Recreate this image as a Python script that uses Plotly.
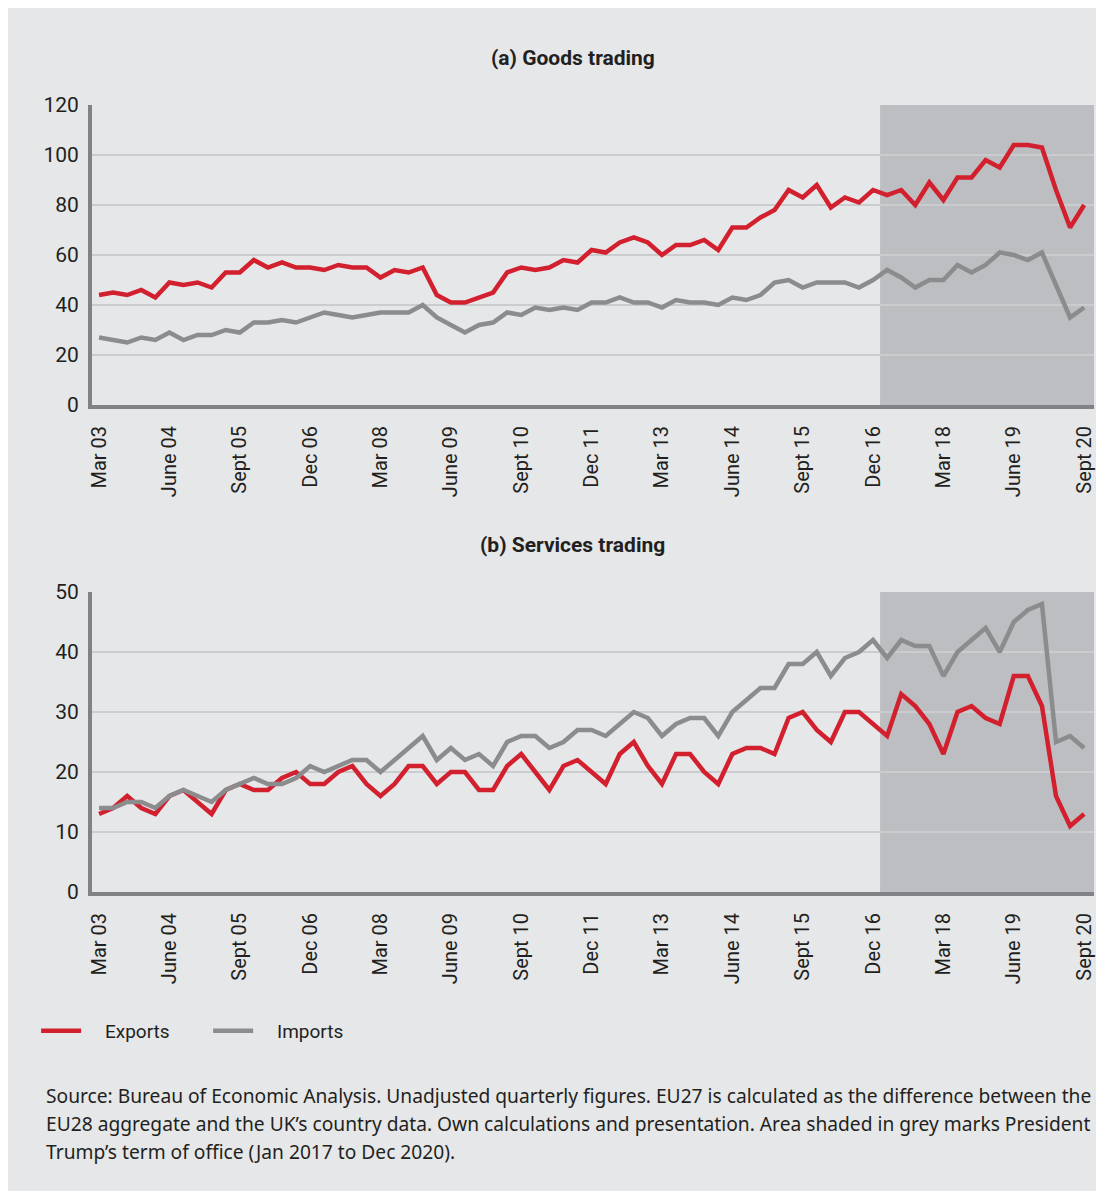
import plotly.graph_objects as go

# quarters Mar 03 .. Sept 20
quarters = [f"{y}Q{q}" for y in range(2003, 2021) for q in range(1, 5)][:71]

tick_quarters = ["2003Q1", "2004Q2", "2005Q3", "2006Q4", "2008Q1", "2009Q2", "2010Q3",
                 "2011Q4", "2013Q1", "2014Q2", "2015Q3", "2016Q4", "2018Q1", "2019Q2", "2020Q3"]
tick_labels = ["Mar 03", "June 04", "Sept 05", "Dec 06", "Mar 08", "June 09", "Sept 10",
               "Dec 11", "Mar 13", "June 14", "Sept 15", "Dec 16", "Mar 18", "June 19", "Sept 20"]

goods_exports = [44, 45, 44, 46, 43, 49, 48, 49, 47, 53, 53, 58, 55, 57, 55, 55, 54, 56, 55, 55,
                 51, 54, 53, 55, 44, 41, 41, 43, 45, 53, 55, 54, 55, 58, 57, 62, 61, 65, 67, 65,
                 60, 64, 64, 66, 62, 71, 71, 75, 78, 86, 83, 88, 79, 83, 81, 86, 84, 86, 80, 89,
                 82, 91, 91, 98, 95, 104, 104, 103, 86, 71, 80]
goods_imports = [27, 26, 25, 27, 26, 29, 26, 28, 28, 30, 29, 33, 33, 34, 33, 35, 37, 36, 35, 36,
                 37, 37, 37, 40, 35, 32, 29, 32, 33, 37, 36, 39, 38, 39, 38, 41, 41, 43, 41, 41,
                 39, 42, 41, 41, 40, 43, 42, 44, 49, 50, 47, 49, 49, 49, 47, 50, 54, 51, 47, 50,
                 50, 56, 53, 56, 61, 60, 58, 61, 48, 35, 39]

services_exports = [13, 14, 16, 14, 13, 16, 17, 15, 13, 17, 18, 17, 17, 19, 20, 18, 18, 20, 21, 18,
                    16, 18, 21, 21, 18, 20, 20, 17, 17, 21, 23, 20, 17, 21, 22, 20, 18, 23, 25, 21,
                    18, 23, 23, 20, 18, 23, 24, 24, 23, 29, 30, 27, 25, 30, 30, 28, 26, 33, 31, 28,
                    23, 30, 31, 29, 28, 36, 36, 31, 16, 11, 13]
services_imports = [14, 14, 15, 15, 14, 16, 17, 16, 15, 17, 18, 19, 18, 18, 19, 21, 20, 21, 22, 22,
                    20, 22, 24, 26, 22, 24, 22, 23, 21, 25, 26, 26, 24, 25, 27, 27, 26, 28, 30, 29,
                    26, 28, 29, 29, 26, 30, 32, 34, 34, 38, 38, 40, 36, 39, 40, 42, 39, 42, 41, 41,
                    36, 40, 42, 44, 40, 45, 47, 48, 25, 26, 24]

footnote = [
    "Source: Bureau of Economic Analysis. Unadjusted quarterly figures. EU27 is calculated as the difference between the",
    "EU28 aggregate and the UK\u2019s country data. Own calculations and presentation. Area shaded in grey marks President",
    "Trump\u2019s term of office (Jan 2017 to Dec 2020).",
]

RED = "#d2202f"
GREY = "#8b8c8e"
BG = "#e6e7e8"
SHADE = "#bdbec1"
AXIS = "#808285"
GRID = "#cbccce"
TEXT = "#231f20"
FONT = "Roboto, Liberation Sans, sans-serif"
NOTE_FONT = "Noto Sans, Open Sans, sans-serif"

W, H = 1088, 1191
L, T, B = 84, 97, 307
PW = W - L          # plot width in px
PH = H - T - B      # plot height in px
X_END = 70.7

fig = go.Figure()

panels = [("x", "y", goods_exports, goods_imports, True),
          ("x2", "y2", services_exports, services_imports, False)]
for xa, ya, exp, imp, show in panels:
    fig.add_trace(go.Scatter(x=quarters, y=exp, xaxis=xa, yaxis=ya, mode="lines",
                             name="\u00a0\u00a0\u00a0\u00a0Exports",
                             line=dict(color=RED, width=4.5), showlegend=show))
    fig.add_trace(go.Scatter(x=quarters, y=imp, xaxis=xa, yaxis=ya, mode="lines",
                             name="\u00a0\u00a0\u00a0\u00a0Imports",
                             line=dict(color=GREY, width=4.5), showlegend=show))

# grey area = Trump's term of office (Jan 2017 onwards)
for xr, yr, top in [("x", "y", 120), ("x2", "y2", 50)]:
    fig.add_shape(type="rect", xref=xr, yref=yr, x0=55.5, x1=X_END, y0=0, y1=top,
                  fillcolor=SHADE, line_width=0, layer="below")

xcommon = dict(type="category", categoryorder="array", categoryarray=quarters,
               range=[-0.5, X_END], tickvals=tick_quarters, ticktext=tick_labels,
               tickangle=-90, showgrid=False, showline=True, linecolor=AXIS, linewidth=4,
               ticks="", ticklabelstandoff=9,
               tickfont=dict(family=FONT, size=20, color=TEXT), fixedrange=True)
ycommon = dict(showgrid=True, gridcolor=GRID, gridwidth=2, showline=True, linecolor=AXIS,
               linewidth=4, zeroline=False, ticks="", ticklabelstandoff=5,
               tickfont=dict(family=FONT, size=21, color=TEXT), fixedrange=True)


def px_x(p):
    return (p - L) / PW


def px_y(p):
    return (H - B - p) / PH


annotations = [
    dict(text="<b>(a) Goods trading</b>", xref="paper", yref="paper", x=px_x(565.5), y=px_y(50),
         xanchor="center", yanchor="middle", showarrow=False,
         font=dict(family=FONT, size=21, color=TEXT)),
    dict(text="<b>(b) Services trading</b>", xref="paper", yref="paper", x=px_x(565.5), y=px_y(537),
         xanchor="center", yanchor="middle", showarrow=False,
         font=dict(family=FONT, size=21, color=TEXT)),
]
for i, line in enumerate(footnote):
    annotations.append(dict(text=line, xref="paper", yref="paper", x=px_x(36),
                            y=px_y(1087 + 28 * i), xanchor="left", yanchor="middle",
                            align="left", showarrow=False,
                            font=dict(family=NOTE_FONT, size=19.2, color=TEXT)))

fig.update_layout(
    width=W, height=H,
    paper_bgcolor=BG, plot_bgcolor=BG,
    margin=dict(l=L, r=0, t=T, b=B),
    xaxis=dict(xcommon, anchor="y"),
    xaxis2=dict(xcommon, anchor="y2"),
    yaxis=dict(ycommon, domain=[px_y(397), 1], range=[0, 120], tickvals=[0, 20, 40, 60, 80, 100, 120]),
    yaxis2=dict(ycommon, domain=[0, px_y(584)], range=[0, 50], tickvals=[0, 10, 20, 30, 40, 50]),
    showlegend=True,
    legend=dict(orientation="h", x=px_x(28), xanchor="left", y=px_y(1023), yanchor="middle",
                font=dict(family=FONT, size=19, color=TEXT),
                bgcolor="rgba(0,0,0,0)", entrywidth=117, itemwidth=40),
    annotations=annotations,
)

fig.write_html("out.html")
